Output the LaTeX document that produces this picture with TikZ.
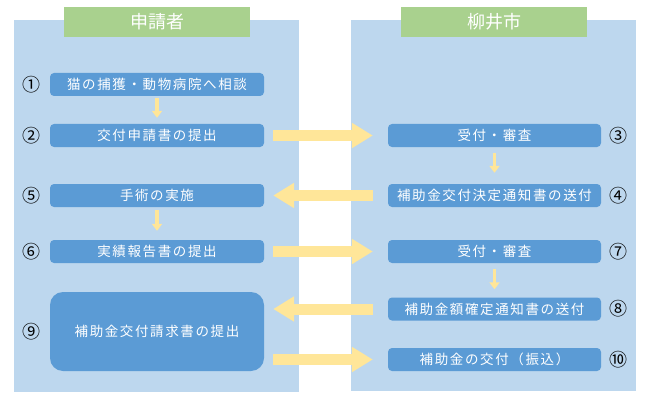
\documentclass[tikz,border=0pt]{standalone}
\usepackage{fontspec}
\usetikzlibrary{arrows.meta}
\newfontfamily\jp[LetterSpace=12]{Noto Sans CJK JP}
\newfontfamily\jptitle{Noto Sans CJK JP}
\definecolor{panelblue}{HTML}{BDD7EE}
\definecolor{nodeblue}{HTML}{5B9BD5}
\definecolor{arrowyellow}{HTML}{FFE699}
\definecolor{titlegreen}{HTML}{A9D18E}
\tikzset{
  panel/.style={fill=panelblue, draw=none},
  titlebox/.style={fill=titlegreen, draw=none, text=white, font=\jptitle\fontsize{18}{20}\selectfont, minimum width=186pt, minimum height=30pt, inner sep=0pt},
  stepbox/.style={fill=nodeblue, draw=none, rounded corners=4pt, text=white, font=\jp\fontsize{13.5}{15}\selectfont, minimum height=23pt, inner sep=0pt},
  leftbox/.style={stepbox, minimum width=214pt},
  rightbox/.style={stepbox, minimum width=213pt},
  numlabel/.style={font=\jptitle\fontsize{18}{20}\selectfont, text=black, inner sep=0pt},
  bigarrow/.style={draw=arrowyellow, line width=11pt, -{Triangle[width=24pt,length=21pt]}},
  smallarrow/.style={draw=arrowyellow, line width=3.5pt, -{Triangle[width=10pt,length=7pt]}}
}
\begin{document}
\begin{tikzpicture}[x=1pt,y=-1pt]
\useasboundingbox (0,0) rectangle (650,401);
% panels
\fill[panel] (14,20) rectangle (299,392);
\fill[panel] (351,20) rectangle (636,391);
% titles
\node[titlebox] (t1) at (157,22) {申請者};
\node[titlebox] (t2) at (494,22) {柳井市};
% left steps
\node[leftbox] (n1) at (157,84.5) {猫の捕獲・動物病院へ相談};
\node[leftbox] (n2) at (157,135.5) {交付申請書の提出};
\node[leftbox] (n5) at (157,195.5) {手術の実施};
\node[leftbox] (n6) at (157,251.5) {実績報告書の提出};
\node[leftbox, minimum height=79pt, rounded corners=13pt] (n9) at (157,331.5) {補助金交付請求書の提出};
% right steps
\node[rightbox] (n3) at (494.5,135.5) {受付・審査};
\node[rightbox] (n4) at (494.5,195.5) {補助金交付決定通知書の送付};
\node[rightbox] (n7) at (494.5,251.5) {受付・審査};
\node[rightbox] (n8) at (494.5,309) {補助金額確定通知書の送付};
\node[rightbox] (n10) at (494.5,359.5) {補助金の交付（振込）};
% numbers
\node[numlabel] (c1) at (32,84.5) {①};
\node[numlabel] (c2) at (32,135.5) {②};
\node[numlabel] (c5) at (32,195.5) {⑤};
\node[numlabel] (c6) at (32,251.5) {⑥};
\node[numlabel] (c9) at (32,331.5) {⑨};
\node[numlabel] (c3) at (618,135.5) {③};
\node[numlabel] (c4) at (618,195.5) {④};
\node[numlabel] (c7) at (618,251.5) {⑦};
\node[numlabel] (c8) at (618,309) {⑧};
\node[numlabel] (c10) at (618,359.5) {⑩};
% big arrows
\draw[bigarrow] ([xshift=9pt]n2.east) -- ([xshift=-15pt]n3.west);
\draw[bigarrow] ([xshift=-15pt]n4.west) -- ([xshift=9pt]n5.east);
\draw[bigarrow] ([xshift=9pt]n6.east) -- ([xshift=-15pt]n7.west);
\draw[bigarrow] ([xshift=-15pt]n8.west) -- ([xshift=9pt]n9.east |- n8.west);
\draw[bigarrow] ([xshift=9pt]n9.east |- n10.west) -- ([xshift=-15pt]n10.west);
% small arrows
\draw[smallarrow] ([yshift=-2pt]n1.south) -- ([yshift=6pt]n2.north);
\draw[smallarrow] ([yshift=-3pt]n5.south) -- ([yshift=9pt]n6.north);
\draw[smallarrow] ([yshift=-6pt]n3.south) -- ([yshift=11pt]n4.north);
\draw[smallarrow] ([yshift=-6pt]n7.south) -- ([yshift=8pt]n8.north);
\end{tikzpicture}
\end{document}
